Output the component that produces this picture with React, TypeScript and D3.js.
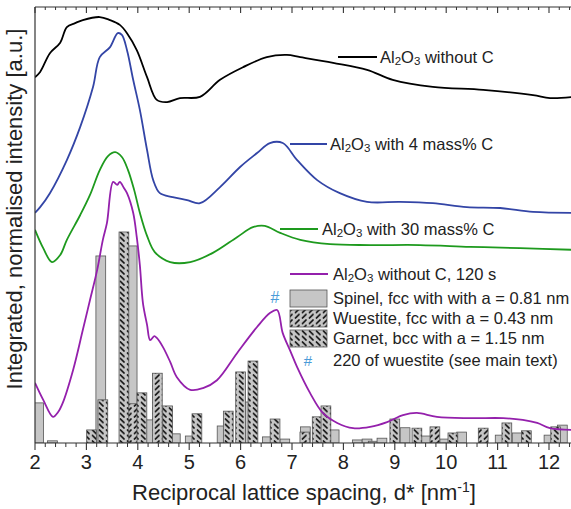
import React from 'react';
import * as d3 from 'd3';

const W = 571;
const H = 509;

// d* [nm^-1], intensity [a.u.] (offset stacked)
const noCarbon: [number, number][] = [
  [2.0, 83.9], [2.1, 85.1], [2.29, 89.4], [2.49, 91.8], [2.62, 95.4], [2.78, 96.3],
  [2.93, 97.0], [3.26, 97.7], [3.46, 97.0], [3.65, 95.9], [3.79, 94.0], [3.98, 90.1],
  [4.18, 83.9], [4.37, 78.7], [4.57, 78.2], [4.82, 79.1], [5.21, 79.4], [5.6, 83.3],
  [6.05, 86.2], [6.51, 88.5], [6.9, 89.0], [7.16, 88.5], [7.8, 87.2], [8.46, 85.6],
  [8.96, 83.3], [9.74, 81.7], [10.72, 81.0], [11.69, 79.8], [12.02, 79.1], [12.5, 79.4],
];

const carbon4: [number, number][] = [
  [2.0, 52.8], [2.1, 54.1], [2.29, 57.3], [2.62, 64.9], [2.88, 72.5], [3.13, 81.7],
  [3.26, 88.5], [3.46, 90.8], [3.61, 94.0], [3.69, 93.6], [3.79, 90.1], [3.91, 83.3],
  [4.04, 76.4], [4.18, 67.2], [4.3, 60.3], [4.43, 57.3], [4.68, 56.4], [4.96, 55.7],
  [5.21, 55.0], [5.6, 58.7], [5.99, 63.3], [6.32, 66.5], [6.57, 68.8], [6.82, 68.8],
  [7.1, 64.9], [7.49, 60.3], [7.93, 57.3], [8.46, 55.3], [9.1, 55.3], [9.74, 55.0],
  [10.4, 54.1], [11.05, 53.9], [11.69, 53.0], [12.5, 52.8],
];

const carbon30: [number, number][] = [
  [2.0, 48.9], [2.16, 44.7], [2.33, 41.5], [2.49, 43.1], [2.62, 46.6], [2.88, 52.3],
  [3.07, 56.9], [3.26, 62.6], [3.42, 65.8], [3.56, 66.7], [3.69, 65.6], [3.81, 62.6],
  [3.93, 58.0], [4.04, 52.8], [4.18, 47.5], [4.33, 43.8], [4.63, 41.5], [5.02, 41.5],
  [5.46, 43.6], [5.93, 47.2], [6.24, 49.5], [6.47, 49.8], [6.77, 48.2], [7.16, 46.6],
  [7.74, 45.6], [8.52, 45.4], [9.49, 45.4], [10.46, 45.0], [11.44, 44.7], [12.5, 44.3],
];

const noCarbon120s: [number, number][] = [
  [2.0, 13.8], [2.16, 9.9], [2.35, 6.0], [2.45, 7.1], [2.54, 9.2], [2.74, 16.7],
  [2.93, 25.9], [3.07, 32.8], [3.21, 39.7], [3.32, 46.6], [3.4, 50.5], [3.52, 59.9],
  [3.6, 59.2], [3.65, 59.9], [3.73, 58.5], [3.79, 57.3], [3.91, 52.8], [3.98, 47.2],
  [4.04, 40.8], [4.1, 32.1], [4.18, 27.1], [4.24, 23.6], [4.32, 24.5], [4.37, 24.1],
  [4.49, 22.0], [4.63, 18.6], [4.76, 15.1], [5.02, 12.2], [5.27, 12.6], [5.54, 14.4],
  [5.93, 20.6], [6.32, 26.6], [6.57, 29.8], [6.71, 30.5], [6.82, 25.2], [6.96, 21.3],
  [7.1, 17.4], [7.35, 11.5], [7.6, 6.9], [7.88, 4.6], [8.19, 3.4], [8.52, 3.7],
  [8.85, 4.8], [9.16, 6.4], [9.43, 6.9], [9.82, 6.0], [10.46, 5.7], [11.11, 5.7],
  [11.49, 5.3], [11.77, 4.6], [12.02, 3.4], [12.5, 3.0],
];

// reference reflections: [d*, relative height]
const spinelBars: [number, number][] = [
  [2.07, 9.2], [2.34, 0.5], [3.28, 42.9], [3.89, 45.2], [4.03, 5.0], [4.24, 5.3],
  [4.73, 2.1], [5.02, 1.6], [5.64, 3.9], [6.12, 9.4], [6.52, 1.4], [6.86, 0.9],
  [7.26, 3.7], [7.82, 3.0], [8.27, 0.7], [8.46, 0.9], [8.58, 0.4], [8.75, 1.1],
  [9.2, 3.5], [9.6, 1.6], [9.97, 0.9], [10.3, 2.5], [11.05, 1.8], [11.38, 2.3],
  [12.0, 1.8], [12.26, 4.1],
];

const wuestiteBars: [number, number][] = [
  [3.9, 9.0], [4.38, 16.0], [7.25, 2.5], [9.78, 3.7], [10.72, 3.4],
];

const garnetBars: [number, number][] = [
  [3.1, 3.0], [3.32, 9.9], [3.73, 48.4], [4.08, 11.5], [4.58, 8.5], [5.15, 6.7],
  [5.76, 7.3], [6.0, 16.3], [6.24, 18.8], [6.67, 5.5], [7.49, 6.0], [7.66, 8.5],
  [9.0, 5.5], [9.43, 3.4], [10.13, 2.3], [11.18, 4.6], [11.56, 2.8], [12.13, 3.7],
];

const xTicks = [2, 3, 4, 5, 6, 7, 8, 9, 10, 11, 12];
const hashPeak: [number, number] = [6.67, 30.5];

const font = "'Liberation Sans', Arial, Helvetica, sans-serif";
const GRAY = '#c6c6c6';

function Al2O3({ rest }: { rest: string }) {
  return (
    <>
      Al<tspan fontSize="11.5" dy="1.5">2</tspan>
      <tspan dy="-1.5">O</tspan>
      <tspan fontSize="11.5" dy="1.5">3</tspan>
      <tspan dy="-1.5">{rest}</tspan>
    </>
  );
}

export default function App() {
  const x = d3.scaleLinear().domain([2, 12.5]).range([35, 35 + 10.5 * 51.4]);
  const y = d3.scaleLinear().domain([0, 100]).range([443, 7]);
  const line = d3
    .line<[number, number]>()
    .x((d) => x(d[0]))
    .y((d) => y(d[1]))
    .curve(d3.curveCatmullRom.alpha(0.5));

  const minor = d3.range(2, 12.5001, 0.2).filter((v) => Math.abs(v - Math.round(v)) > 0.01);
  const bw = 0.19;

  const bars = (data: [number, number][], fill: string, key: string) =>
    data.map(([d, h], i) => (
      <rect
        key={key + i}
        x={x(d - bw / 2)}
        width={x(d + bw / 2) - x(d - bw / 2)}
        y={y(h)}
        height={y(0) - y(h)}
        fill={fill}
        stroke="#555"
        strokeWidth={0.8}
      />
    ));

  const series = [
    { data: noCarbon, color: '#000000' },
    { data: carbon4, color: '#3345a6' },
    { data: carbon30, color: '#1e9a1e' },
    { data: noCarbon120s, color: '#9420ac' },
  ];

  return (
    <svg width={W} height={H} style={{ position: 'absolute', left: 0, top: 0, background: '#fff' }} fontFamily={font}>
      <defs>
        <clipPath id="plot">
          <rect x={35} y={7} width={W - 35} height={436} />
        </clipPath>
        <pattern id="wue" patternUnits="userSpaceOnUse" width="7" height="5.5">
          <rect width="7" height="5.5" fill={GRAY} />
          <line x1="1.5" y1="4.5" x2="5" y2="1" stroke="#111" strokeWidth="1.7" strokeLinecap="round" />
        </pattern>
        <pattern id="gar" patternUnits="userSpaceOnUse" width="7" height="5.5">
          <rect width="7" height="5.5" fill={GRAY} />
          <line x1="1.5" y1="1" x2="5" y2="4.5" stroke="#111" strokeWidth="1.7" strokeLinecap="round" />
        </pattern>
      </defs>

      <g clipPath="url(#plot)">
        {bars(spinelBars, GRAY, 's')}
        {bars(wuestiteBars, 'url(#wue)', 'w')}
        {bars(garnetBars, 'url(#gar)', 'g')}
        {series.map((s, i) => (
          <path key={i} d={line(s.data) || ''} fill="none" stroke={s.color} strokeWidth={1.8} strokeLinejoin="round" />
        ))}
      </g>

      {/* axes frame */}
      <line x1={35} y1={443} x2={W} y2={443} stroke="#333" strokeWidth={1.2} />
      <line x1={35} y1={7} x2={W} y2={7} stroke="#333" strokeWidth={1.2} />
      <line x1={35} y1={7} x2={35} y2={443} stroke="#333" strokeWidth={1.2} />
      {xTicks.map((t) => (
        <g key={'t' + t}>
          <line x1={x(t)} x2={x(t)} y1={443} y2={450} stroke="#333" strokeWidth={1.1} />
          <line x1={x(t)} x2={x(t)} y1={7} y2={13} stroke="#333" strokeWidth={1.1} />
          <text x={x(t)} y={469} fontSize={20} textAnchor="middle" fill="#222">
            {t}
          </text>
        </g>
      ))}
      {minor.map((t, i) => (
        <g key={'m' + i}>
          <line x1={x(t)} x2={x(t)} y1={443} y2={447} stroke="#333" strokeWidth={1} />
          <line x1={x(t)} x2={x(t)} y1={7} y2={10} stroke="#333" strokeWidth={1} />
        </g>
      ))}

      <text x={304} y={500} fontSize={22} textAnchor="middle" fill="#222">
        Reciprocal lattice spacing, d* [nm<tspan fontSize={14} dy={-8}>-1</tspan>
        <tspan dy={8}>]</tspan>
      </text>
      <text transform="translate(22,209) rotate(-90)" fontSize={22} textAnchor="middle" fill="#222">
        Integrated, normalised intensity [a.u.]
      </text>

      {/* # marker on peak */}
      <text x={x(hashPeak[0])} y={y(hashPeak[1]) - 7} fontSize={16} textAnchor="middle" fill="#4a9bd8">
        #
      </text>

      {/* series labels */}
      <g fontSize={16.5} fill="#222">
        <line x1={338} x2={377} y1={57} y2={57} stroke="#000" strokeWidth={1.8} />
        <text x={380} y={63}>
          <Al2O3 rest=" without C" />
        </text>
        <line x1={290} x2={327} y1={144} y2={144} stroke="#3345a6" strokeWidth={1.8} />
        <text x={330} y={150}>
          <Al2O3 rest=" with 4 mass% C" />
        </text>
        <line x1={280} x2={318} y1={229} y2={229} stroke="#1e9a1e" strokeWidth={1.8} />
        <text x={322} y={235}>
          <Al2O3 rest=" with 30 mass% C" />
        </text>
        <line x1={290} x2={328} y1={274} y2={274} stroke="#9420ac" strokeWidth={1.8} />
        <text x={333} y={280}>
          <Al2O3 rest=" without C, 120 s" />
        </text>

        <rect x={290} y={290} width={37} height={17} fill={GRAY} stroke="#555" strokeWidth={0.8} />
        <text x={333} y={304}>Spinel, fcc with with a = 0.81 nm</text>
        <rect x={290} y={310} width={37} height={17} fill="url(#wue)" stroke="#555" strokeWidth={0.8} />
        <text x={333} y={324}>Wuestite, fcc with a = 0.43 nm</text>
        <rect x={290} y={330} width={37} height={17} fill="url(#gar)" stroke="#555" strokeWidth={0.8} />
        <text x={333} y={344}>Garnet, bcc with a = 1.15 nm</text>
        <text x={308} y={366} textAnchor="middle" fill="#4a9bd8" fontSize={15}>
          #
        </text>
        <text x={333} y={366}>220 of wuestite (see main text)</text>
      </g>
    </svg>
  );
}
